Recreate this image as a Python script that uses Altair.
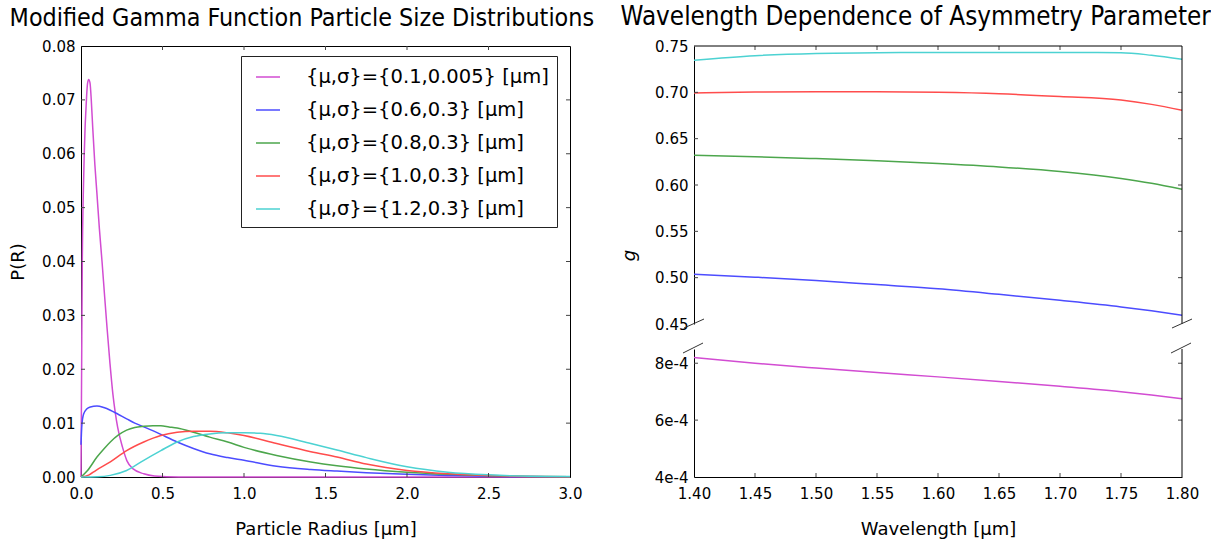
import altair as alt
import pandas as pd

# ---------------- data ----------------
series_labels = [
    "{μ,σ}={0.1,0.005} [μm]",
    "{μ,σ}={0.6,0.3} [μm]",
    "{μ,σ}={0.8,0.3} [μm]",
    "{μ,σ}={1.0,0.3} [μm]",
    "{μ,σ}={1.2,0.3} [μm]",
]
series_colors = ["#d24cd2", "#4c4cff", "#4ca64c", "#ff4c4c", "#4cd2d2"]

mag_r = [0.0, 0.005, 0.008, 0.014, 0.020, 0.025, 0.030, 0.035, 0.040, 0.047, 0.055, 0.063,
         0.072, 0.085, 0.098, 0.113, 0.129, 0.145, 0.160, 0.178, 0.196, 0.210, 0.225, 0.255,
         0.282, 0.32, 0.385, 0.45, 0.6, 3.0]
mag_p = [0.0, 0.026, 0.040, 0.0525, 0.060, 0.0648, 0.068, 0.071, 0.073, 0.0738, 0.0732, 0.070,
         0.0648, 0.058, 0.0525, 0.046, 0.040, 0.0335, 0.0276, 0.021, 0.0153, 0.012, 0.0092, 0.0055,
         0.003, 0.0015, 0.0006, 0.0002, 0.0, 0.0]

blue_r = [0.0, 0.005, 0.016, 0.035, 0.057, 0.098, 0.14, 0.18, 0.23, 0.28, 0.33, 0.385, 0.44,
          0.49, 0.59, 0.69, 0.79, 0.9, 1.0, 1.2, 1.41, 1.57, 1.75, 2.0, 2.25, 2.5, 2.75, 3.0]
blue_p = [0.006, 0.0095, 0.0117, 0.0126, 0.0130, 0.0132, 0.0129, 0.0124, 0.0116, 0.0108, 0.0100,
          0.0093, 0.0086, 0.0079, 0.0065, 0.0053, 0.0043, 0.0036, 0.0031, 0.0020, 0.0014, 0.0011,
          0.0008, 0.0005, 0.0003, 0.00015, 0.00007, 0.00003]

green_r = [0.0, 0.04, 0.098, 0.14, 0.18, 0.23, 0.28, 0.33, 0.385, 0.44, 0.49, 0.54, 0.59, 0.69,
           0.79, 0.9, 1.0, 1.2, 1.41, 1.57, 1.75, 2.0, 2.25, 2.5, 2.75, 3.0]
green_p = [0.0, 0.0012, 0.0037, 0.0052, 0.0065, 0.0078, 0.0087, 0.0092, 0.0094, 0.0095, 0.0095,
           0.0093, 0.0091, 0.0083, 0.0074, 0.0065, 0.0055, 0.0040, 0.0028, 0.0021, 0.0015, 0.0009,
           0.0005, 0.00025, 0.0001, 0.00003]

red_r = [0.0, 0.05, 0.09, 0.18, 0.28, 0.385, 0.49, 0.59, 0.69, 0.79, 0.9, 1.0, 1.2, 1.41, 1.57,
         1.75, 2.0, 2.25, 2.5, 2.75, 3.0]
red_p = [0.0, 0.0004, 0.0012, 0.0028, 0.0049, 0.0065, 0.0077, 0.0083, 0.0085, 0.0085, 0.0082,
         0.0077, 0.0062, 0.0047, 0.0037, 0.0024, 0.0012, 0.0006, 0.0003, 0.0001, 0.00005]

cyan_r = [0.0, 0.1, 0.18, 0.28, 0.385, 0.49, 0.59, 0.69, 0.79, 0.895, 1.0, 1.1, 1.2, 1.41, 1.57,
          1.75, 2.0, 2.25, 2.5, 2.75, 3.0]
cyan_p = [0.0, 0.00005, 0.0003, 0.0012, 0.0031, 0.0049, 0.0065, 0.0075, 0.0080, 0.0082, 0.0082,
          0.0081, 0.0077, 0.0062, 0.0050, 0.0036, 0.0019, 0.0009, 0.0004, 0.00015, 0.0001]

wavelength = [1.40, 1.45, 1.50, 1.55, 1.60, 1.65, 1.70, 1.75, 1.775, 1.80]
g_blue = [0.5036, 0.5005, 0.4970, 0.4925, 0.4880, 0.4820, 0.4755, 0.4684, 0.4642, 0.4594]
g_green = [0.6320, 0.6305, 0.6285, 0.6262, 0.6232, 0.6195, 0.6145, 0.6070, 0.6018, 0.5953]
g_red = [0.6993, 0.7003, 0.7006, 0.7005, 0.7000, 0.6985, 0.6955, 0.6917, 0.6870, 0.6806]
g_cyan = [0.7346, 0.7395, 0.7420, 0.7428, 0.7430, 0.7430, 0.7430, 0.7428, 0.7400, 0.7356]
g_mag = [8.2e-4, 8.0e-4, 7.83e-4, 7.67e-4, 7.52e-4, 7.36e-4, 7.19e-4, 7.0e-4, 6.88e-4, 6.75e-4]

radius_ticks = [0.0, 0.5, 1.0, 1.5, 2.0, 2.5, 3.0]
p_ticks = [0.0, 0.01, 0.02, 0.03, 0.04, 0.05, 0.06, 0.07, 0.08]
wl_ticks = [1.40, 1.45, 1.50, 1.55, 1.60, 1.65, 1.70, 1.75, 1.80]
g_ticks = [0.45, 0.50, 0.55, 0.60, 0.65, 0.70, 0.75]
gsmall_ticks = [4e-4, 6e-4, 8e-4]

# ---------------- tables ----------------
left_rows = []
for lab, rs, ps in zip(series_labels, [mag_r, blue_r, green_r, red_r, cyan_r],
                       [mag_p, blue_p, green_p, red_p, cyan_p]):
    for r, p in zip(rs, ps):
        left_rows.append({"series": lab, "r": r, "p": p})
df_left = pd.DataFrame(left_rows)

top_rows = []
for lab, gs in zip(series_labels[1:], [g_blue, g_green, g_red, g_cyan]):
    for w, g in zip(wavelength, gs):
        top_rows.append({"series": lab, "w": w, "g": g})
df_top = pd.DataFrame(top_rows)
df_bot = pd.DataFrame({"series": series_labels[0], "w": wavelength, "g": g_mag})

one = pd.DataFrame({"k": [0]})

color_scale = alt.Scale(domain=series_labels, range=series_colors)
TICK = "#444444"

# ---------------- left panel ----------------
LW, LH = 489, 431
xs_left = alt.Scale(domain=[0, 3], nice=False, padding=0)
ys_left = alt.Scale(domain=[0, 0.08], nice=False, padding=0)
ax_lx = alt.Axis(title="Particle Radius [μm]", values=radius_ticks, format=".1f",
                 labelPadding=9, titlePadding=19)
ax_ly = alt.Axis(title="P(R)", values=p_ticks, format=".2f", labelPadding=6, titlePadding=14)

left_lines = alt.Chart(df_left).mark_line(strokeWidth=1.5, interpolate="monotone").encode(
    x=alt.X("r:Q", scale=xs_left, axis=ax_lx),
    y=alt.Y("p:Q", scale=ys_left, axis=ax_ly),
    color=alt.Color("series:N", scale=color_scale, sort=series_labels,
                    legend=alt.Legend(title=None, orient="none", legendX=160, legendY=10,
                                      symbolType="stroke", symbolSize=576, symbolStrokeWidth=1.5,
                                      symbolOffset=6,
                                      labelFontSize=19.5, labelFont="DejaVu Sans", labelColor="black",
                                      labelOffset=25, rowPadding=10, padding=8,
                                      fillColor="white", strokeColor="#222222",
                                      labelLimit=400)),
)

lx_bot = alt.Chart(pd.DataFrame({"r": radius_ticks[1:-1]})).mark_rule(color=TICK).encode(
    x=alt.X("r:Q", scale=xs_left, axis=ax_lx), y=alt.value(LH), y2=alt.value(LH - 4))
lx_top = alt.Chart(pd.DataFrame({"r": radius_ticks[1:-1]})).mark_rule(color=TICK).encode(
    x=alt.X("r:Q", scale=xs_left, axis=ax_lx), y=alt.value(0), y2=alt.value(4))
ly_l = alt.Chart(pd.DataFrame({"p": p_ticks[1:-1]})).mark_rule(color=TICK).encode(
    y=alt.Y("p:Q", scale=ys_left, axis=ax_ly), x=alt.value(0), x2=alt.value(4))
ly_r = alt.Chart(pd.DataFrame({"p": p_ticks[1:-1]})).mark_rule(color=TICK).encode(
    y=alt.Y("p:Q", scale=ys_left, axis=ax_ly), x=alt.value(LW), x2=alt.value(LW - 4))

left = alt.layer(left_lines, lx_bot, lx_top, ly_l, ly_r).properties(
    width=LW, height=LH,
    view=alt.ViewBackground(stroke="black", strokeWidth=1),
    title=alt.TitleParams("Modified Gamma Function Particle Size Distributions",
                          anchor="start", frame="bounds",
                          font="DejaVu Sans Condensed", fontSize=24.85, fontWeight="normal",
                          color="black", offset=8),
)

# ---------------- right panels ----------------
RW, RTH, RBH = 488, 278, 128
xs_r = alt.Scale(domain=[1.4, 1.8], nice=False, zero=False, padding=0)
ys_top = alt.Scale(domain=[0.45, 0.75], nice=False, zero=False, padding=0)
ys_bot = alt.Scale(domain=[4e-4, 8.5e-4], nice=False, zero=False, padding=0)
ax_ty = alt.Axis(title="g", titleFontStyle="italic", values=g_ticks, format=".2f",
                 labelPadding=6, titlePadding=16, titleY=209)
ax_bx = alt.Axis(title="Wavelength [μm]", values=wl_ticks, format=".2f",
                 labelPadding=9, titlePadding=19)
ax_by = alt.Axis(title=None, values=gsmall_ticks,
                 labelExpr="format(datum.value * 10000, 'd') + 'e-4'", labelPadding=6)

top_lines = alt.Chart(df_top).mark_line(strokeWidth=1.5, interpolate="monotone").encode(
    x=alt.X("w:Q", scale=xs_r, axis=None),
    y=alt.Y("g:Q", scale=ys_top, axis=ax_ty),
    color=alt.Color("series:N", scale=color_scale, legend=None),
)
t_top_edge = alt.Chart(one).mark_rule(color="black").encode(
    x=alt.value(0), x2=alt.value(RW), y=alt.value(0))
t_right_edge = alt.Chart(one).mark_rule(color="black").encode(
    x=alt.value(RW), y=alt.value(0), y2=alt.value(RTH))
t_brk_l = alt.Chart(one).mark_rule(color="#333333").encode(
    x=alt.value(-10), x2=alt.value(10), y=alt.value(RTH + 4), y2=alt.value(RTH - 5))
t_brk_r = alt.Chart(one).mark_rule(color="#333333").encode(
    x=alt.value(RW - 10), x2=alt.value(RW + 10), y=alt.value(RTH + 4), y2=alt.value(RTH - 5))
t_xt = alt.Chart(pd.DataFrame({"w": wl_ticks[1:-1]})).mark_rule(color=TICK).encode(
    x=alt.X("w:Q", scale=xs_r, axis=None), y=alt.value(0), y2=alt.value(4))
t_yl = alt.Chart(pd.DataFrame({"g": g_ticks[1:-1]})).mark_rule(color=TICK).encode(
    y=alt.Y("g:Q", scale=ys_top, axis=ax_ty), x=alt.value(0), x2=alt.value(4))
t_yr = alt.Chart(pd.DataFrame({"g": g_ticks[1:-1]})).mark_rule(color=TICK).encode(
    y=alt.Y("g:Q", scale=ys_top, axis=ax_ty), x=alt.value(RW), x2=alt.value(RW - 4))

top = alt.layer(top_lines, t_xt, t_yl, t_yr, t_top_edge, t_right_edge, t_brk_l, t_brk_r).properties(
    width=RW, height=RTH)

bot_lines = alt.Chart(df_bot).mark_line(strokeWidth=1.5, interpolate="monotone").encode(
    x=alt.X("w:Q", scale=xs_r, axis=ax_bx),
    y=alt.Y("g:Q", scale=ys_bot, axis=ax_by),
    color=alt.Color("series:N", scale=color_scale, legend=None),
)
b_right_edge = alt.Chart(one).mark_rule(color="black").encode(
    x=alt.value(RW), y=alt.value(0), y2=alt.value(RBH))
b_brk_l = alt.Chart(one).mark_rule(color="#333333").encode(
    x=alt.value(-11), x2=alt.value(9), y=alt.value(4), y2=alt.value(-6))
b_brk_r = alt.Chart(one).mark_rule(color="#333333").encode(
    x=alt.value(RW - 11), x2=alt.value(RW + 9), y=alt.value(4), y2=alt.value(-6))
b_xt = alt.Chart(pd.DataFrame({"w": wl_ticks[1:-1]})).mark_rule(color=TICK).encode(
    x=alt.X("w:Q", scale=xs_r, axis=ax_bx), y=alt.value(RBH), y2=alt.value(RBH - 4))
b_yl = alt.Chart(pd.DataFrame({"g": gsmall_ticks[1:]})).mark_rule(color=TICK).encode(
    y=alt.Y("g:Q", scale=ys_bot, axis=ax_by), x=alt.value(0), x2=alt.value(4))
b_yr = alt.Chart(pd.DataFrame({"g": gsmall_ticks[1:]})).mark_rule(color=TICK).encode(
    y=alt.Y("g:Q", scale=ys_bot, axis=ax_by), x=alt.value(RW), x2=alt.value(RW - 4))

bottom = alt.layer(bot_lines, b_xt, b_yl, b_yr, b_right_edge, b_brk_l, b_brk_r).properties(
    width=RW, height=RBH)

right = alt.vconcat(top, bottom, spacing=25, bounds="flush").resolve_scale(
    x="independent", y="independent").properties(
    title=alt.TitleParams("Wavelength Dependence of Asymmetry Parameter",
                          anchor="start", frame="bounds",
                          font="DejaVu Sans Condensed", fontSize=25.8, fontWeight="normal",
                          color="black", offset=8),
)

chart = alt.hconcat(left, right, spacing=25).resolve_scale(
    color="independent", x="independent", y="independent").resolve_legend(
    color="independent").properties(
    padding={"left": 9, "top": 4, "right": 0, "bottom": 0},
    background="white",
).configure_view(stroke=None).configure_axis(
    labelFont="DejaVu Sans", labelFontSize=15, labelColor="black", labelFlush=False,
    titleFont="DejaVu Sans", titleFontSize=18, titleColor="black", titleFontWeight="normal",
    domainColor="black", domainWidth=1, ticks=False, grid=False,
)

chart.save("out.html", embed_options={"renderer": "svg", "actions": False})
